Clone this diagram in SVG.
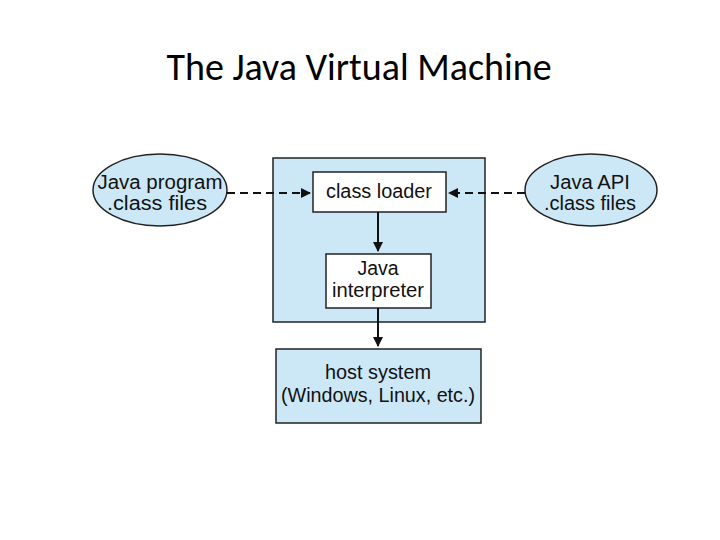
<svg xmlns="http://www.w3.org/2000/svg" width="720" height="540" viewBox="0 0 720 540">
<defs>
<style>
.t{font-family:"Liberation Sans",Arial,sans-serif;font-size:19.5px;fill:#111;text-anchor:middle}
.b{fill:#cce8f6;stroke:#222;stroke-width:1.5}
.w{fill:#fff;stroke:#222;stroke-width:1.5}
.c{stroke:#111;stroke-width:2;fill:none}
</style>
<marker id="a" viewBox="0 0 10 10" refX="9" refY="5" markerWidth="5" markerHeight="5" orient="auto"><path d="M0,0L10,5L0,10z" fill="#111"/></marker>
</defs>
<rect width="720" height="540" fill="#fff"/>
<text x="359" y="80" style="font-family:Calibri,Carlito,'Liberation Sans',sans-serif;font-size:38px;fill:#000;text-anchor:middle">The Java Virtual Machine</text>
<g id="jvm"><rect class="b" x="273" y="158" width="212" height="164"/></g>
<g id="loader"><rect class="w" x="313" y="172" width="133" height="40"/><text class="t" x="379" y="198" textLength="106" lengthAdjust="spacingAndGlyphs">class loader</text></g>
<g id="interp"><rect class="w" x="326" y="254" width="105" height="54"/><text class="t" x="378" y="275">Java</text><text class="t" x="378" y="297" textLength="92" lengthAdjust="spacingAndGlyphs">interpreter</text></g>
<g id="host"><rect class="b" x="276" y="349" width="205" height="74"/><text class="t" x="378" y="379" textLength="106" lengthAdjust="spacingAndGlyphs">host system</text><text class="t" x="378" y="402" textLength="194" lengthAdjust="spacingAndGlyphs">(Windows, Linux, etc.)</text></g>
<g id="prog"><ellipse class="b" cx="160" cy="190" rx="67" ry="36"/><text class="t" x="160" y="189" textLength="125" lengthAdjust="spacingAndGlyphs">Java program</text><text class="t" x="157" y="210" textLength="100" lengthAdjust="spacingAndGlyphs">.class files</text></g>
<g id="api"><ellipse class="b" cx="591" cy="190" rx="66" ry="36"/><text class="t" x="590" y="189" textLength="80" lengthAdjust="spacingAndGlyphs">Java API</text><text class="t" x="590" y="210" textLength="92" lengthAdjust="spacingAndGlyphs">.class files</text></g>
<g id="connectors">
<path class="c" d="M227,193H310" stroke-dasharray="8,5" marker-end="url(#a)"/>
<path class="c" d="M525,193H449" stroke-dasharray="8,5" marker-end="url(#a)"/>
<path class="c" d="M378,212V251" marker-end="url(#a)"/>
<path class="c" d="M378,308V346" marker-end="url(#a)"/>
</g>
</svg>
